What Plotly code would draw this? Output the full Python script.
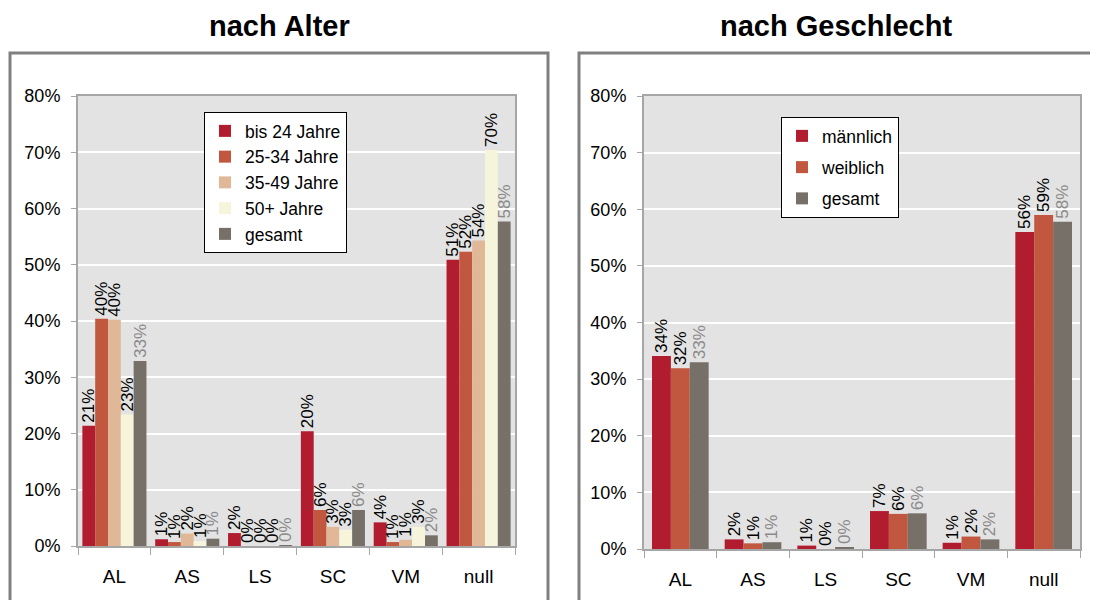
# Befragung: Anteile nach Alter und nach Geschlecht (zwei Balkendiagramme)

import plotly.graph_objects as go

categories = ["AL", "AS", "LS", "SC", "VM", "null"]

# nach Alter (Werte in %)
age_groups = ["bis 24 Jahre", "25-34 Jahre", "35-49 Jahre", "50+ Jahre", "gesamt"]
age_bis24 = [21.4, 1.2, 2.3, 20.4, 4.2, 50.9]
age_25_34 = [40.4, 0.7, 0.0, 6.4, 0.7, 52.3]
age_35_49 = [40.2, 2.2, 0.0, 3.4, 1.1, 54.3]
age_50plus = [23.4, 0.9, 0.0, 2.9, 3.4, 70.4]
age_total = [32.9, 1.3, 0.1, 6.4, 1.9, 57.7]

# nach Geschlecht (Werte in %)
sex_groups = ["männlich", "weiblich", "gesamt"]
sex_male = [34.1, 1.7, 0.6, 6.7, 1.1, 56.0]
sex_female = [31.9, 1.0, 0.0, 6.2, 2.2, 59.0]
sex_total = [33.0, 1.2, 0.3, 6.3, 1.7, 57.8]

age_values = [age_bis24, age_25_34, age_35_49, age_50plus, age_total]
sex_values = [sex_male, sex_female, sex_total]

age_colors = ["#B11D2F", "#C1573E", "#E0B898", "#F7F4DC", "#767069"]
sex_colors = ["#B11D2F", "#C1573E", "#767069"]

FONT = "Liberation Sans, Arial, sans-serif"
GRAY_TEXT = "#8a8a8a"
LINE = "#a6a6a6"

W, H = 1098, 600
OFF = 8  # page body margin


def px(x):
    return (x - OFF) / W


def py(y):
    return 1 - (y - OFF) / H


def add_group(fig, names, values, colors, xaxis, yaxis, legend, total_w):
    """grouped bars with rotated value labels"""
    n = len(names)
    w = total_w / n
    for i, (name, vals, col) in enumerate(zip(names, values, colors)):
        fig.add_trace(go.Bar(
            x=categories, y=vals, name=name,
            marker=dict(color=col, line=dict(width=0)),
            width=w, offset=-total_w / 2 + i * w,
            xaxis=xaxis, yaxis=yaxis, legend=legend, legendgroup=legend + str(i),
            texttemplate="%{y:.0f}%", textposition="outside", textangle=-90,
            textfont=dict(size=17, family=FONT,
                          color=GRAY_TEXT if name == "gesamt" else "black"),
            constraintext="none", cliponaxis=False,
            hovertemplate=name + "<br>%{x}: %{y:.0f}%<extra></extra>",
        ))


fig = go.Figure()
add_group(fig, age_groups, age_values, age_colors, "x", "y", "legend", 0.88)
add_group(fig, sex_groups, sex_values, sex_colors, "x2", "y2", "legend2", 0.78)

yax = dict(range=[0, 80], dtick=10, ticksuffix="%", showgrid=True,
           gridcolor="white", gridwidth=2, zeroline=False,
           showline=True, linecolor=LINE, linewidth=2, mirror=True,
           ticks="outside", ticklen=5, tickcolor=LINE, ticklabelstandoff=7,
           automargin=False,
           tickfont=dict(size=18, family=FONT, color="black"))
xax = dict(showline=True, linecolor=LINE, linewidth=2, mirror=True,
           ticks="outside", tickson="boundaries", ticklen=7, tickcolor=LINE,
           ticklabelstandoff=12, showgrid=False, automargin=False,
           tickfont=dict(size=19, family=FONT, color="black"))

legend_style = dict(bgcolor="white", bordercolor="black", borderwidth=1,
                    font=dict(size=17.5, family=FONT, color="black"),
                    xanchor="left", yanchor="top", traceorder="grouped")

fig.update_layout(
    width=W, height=H,
    margin=dict(l=0, r=0, t=0, b=0, pad=0, autoexpand=False),
    paper_bgcolor="white", plot_bgcolor="#E3E3E3",
    barmode="overlay",
    font=dict(family=FONT, color="black"),
    xaxis=dict(xax, domain=[px(78), px(515)], anchor="y"),
    yaxis=dict(yax, domain=[py(546), py(96)], anchor="x"),
    xaxis2=dict(xax, domain=[px(644), px(1080)], anchor="y2"),
    yaxis2=dict(yax, domain=[py(549), py(96)], anchor="x2"),
    legend=dict(legend_style, x=px(204), y=py(112), tracegroupgap=0),
    legend2=dict(legend_style, x=px(781), y=py(117), tracegroupgap=5.5),
    shapes=[
        dict(type="rect", xref="paper", yref="paper", x0=px(10), x1=px(548),
             y0=-0.1, y1=py(53), line=dict(color="#808080", width=3)),
        dict(type="rect", xref="paper", yref="paper", x0=px(579), x1=1.05,
             y0=-0.1, y1=py(53), line=dict(color="#808080", width=3)),
    ],
    annotations=[
        dict(text="<b>nach Alter</b>", x=px(279), y=py(26), xref="paper",
             yref="paper", xanchor="center", yanchor="middle", showarrow=False,
             font=dict(size=29, family=FONT)),
        dict(text="<b>nach Geschlecht</b>", x=px(836), y=py(26), xref="paper",
             yref="paper", xanchor="center", yanchor="middle", showarrow=False,
             font=dict(size=29, family=FONT)),
    ],
)

fig.write_html("out.html")
